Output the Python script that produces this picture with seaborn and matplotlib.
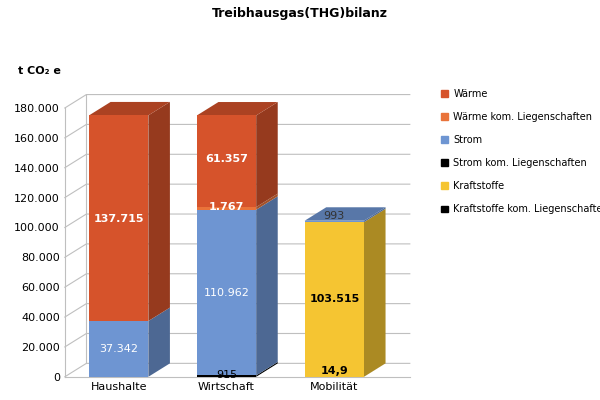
import matplotlib
matplotlib.use("Agg")
import matplotlib.pyplot as plt
import seaborn as sns
import numpy as np
import pandas as pd
from matplotlib.patches import Patch

categories = ["Haushalte", "Wirtschaft", "Mobilität"]
kraftstoffe_kom = [0, 0, 14.9]
kraftstoffe = [0, 0, 103515]
strom_kom = [0, 915, 0]
strom = [37342, 110962, 993]
waerme_kom = [0, 1767, 0]
waerme = [137715, 61357, 0]
yticks = list(range(0, 180001, 20000))

series = [("Kraftstoffe kom. Liegenschaften", kraftstoffe_kom, "#000000"),
          ("Kraftstoffe", kraftstoffe, "#F5C532"),
          ("Strom kom. Liegenschaften", strom_kom, "#000000"),
          ("Strom", strom, "#6E95D2"),
          ("Wärme kom. Liegenschaften", waerme_kom, "#E9733A"),
          ("Wärme", waerme, "#D6532B")]

def shade(c, f):
    r, g, b = matplotlib.colors.to_rgb(c)
    return (r*f, g*f, b*f)

fig = plt.figure(figsize=(6, 4), dpi=100)
ax = fig.add_axes([0.108, 0.058, 0.575, 0.672])
x = np.arange(len(categories))
w = 0.55
dx, dy = 0.2, 9000

for t in yticks:
    ax.plot([-0.5, -0.5 + dx, 2.5 + dx], [t, t + dy, t + dy], color="#BFBFBF",
            lw=0.8, zorder=0, clip_on=False)
ax.plot([-0.5 + dx, -0.5 + dx], [dy, 180000 + dy], color="#BFBFBF", lw=0.8,
        zorder=0, clip_on=False)

cum = np.zeros(len(categories))
bounds = []
for name, vals, col in series:
    v = np.array(vals, float)
    bounds.append((cum.copy(), cum + v, col))
    cum = cum + v

for lo, hi, col in reversed(bounds):
    df = pd.DataFrame({"cat": categories, "val": hi})
    sns.barplot(data=df, x="cat", y="val", color=col, width=w, ax=ax,
                saturation=1, zorder=3, edgecolor="none")
for i in range(len(categories)):
    xr = x[i] + w / 2
    xl = x[i] - w / 2
    for lo, hi, col in bounds:
        if hi[i] - lo[i] <= 0:
            continue
        ax.fill([xr, xr + dx, xr + dx, xr], [lo[i], lo[i] + dy, hi[i] + dy, hi[i]],
                color=shade(col, 0.7), zorder=2.5, lw=0, clip_on=False)
    top = cum[i]
    tc = [c for lo, hi, c in bounds if hi[i] - lo[i] > 0][-1]
    ax.fill([xl, xl + dx, xr + dx, xr], [top, top + dy, top + dy, top],
            color=shade(tc, 0.8), zorder=2.5, lw=0, clip_on=False)

def lab(i, y, s, c="white", b=False):
    ax.text(x[i], y, s, ha="center", va="center", color=c, fontsize=8,
            fontweight="bold" if b else "normal", zorder=5)

lab(0, 18700, "37.342")
lab(0, 106000, "137.715", b=True)
lab(1, 56000, "110.962")
lab(1, 113500, "1.767", b=True)
lab(1, 146000, "61.357", b=True)
lab(1, 1500, "915", c="black")
lab(2, 108000, "993", c="#333333")
lab(2, 52000, "103.515", c="black", b=True)
lab(2, 4000, "14,9", c="black", b=True)

ax.set_xlim(-0.5, 2.5 + dx)
ax.set_ylim(0, 180000)
ax.set_yticks(yticks)
ax.set_yticklabels([f"{t:,}".replace(",", ".") for t in yticks], fontsize=8)
ax.set_xticks(x)
ax.set_xticklabels(categories, fontsize=8)
ax.set_xlabel("")
ax.set_ylabel("")
for s in ["top", "right"]:
    ax.spines[s].set_visible(False)
ax.spines["left"].set_color("#BFBFBF")
ax.spines["bottom"].set_color("#BFBFBF")
ax.tick_params(length=0)

fig.text(0.5, 0.965, "Treibhausgas(THG)bilanz", ha="center", va="center",
         fontsize=9, fontweight="bold")
fig.text(0.03, 0.815, "t CO₂ e", fontsize=8, fontweight="bold")

handles = [Patch(color=c, label=n) for n, _, c in reversed(series)]
fig.legend(handles=handles, loc="upper left", bbox_to_anchor=(0.72, 0.80),
           frameon=False, fontsize=7, handlelength=0.7, handleheight=0.7,
           labelspacing=1.35, handletextpad=0.6)
fig.savefig("out.png", dpi=100)
